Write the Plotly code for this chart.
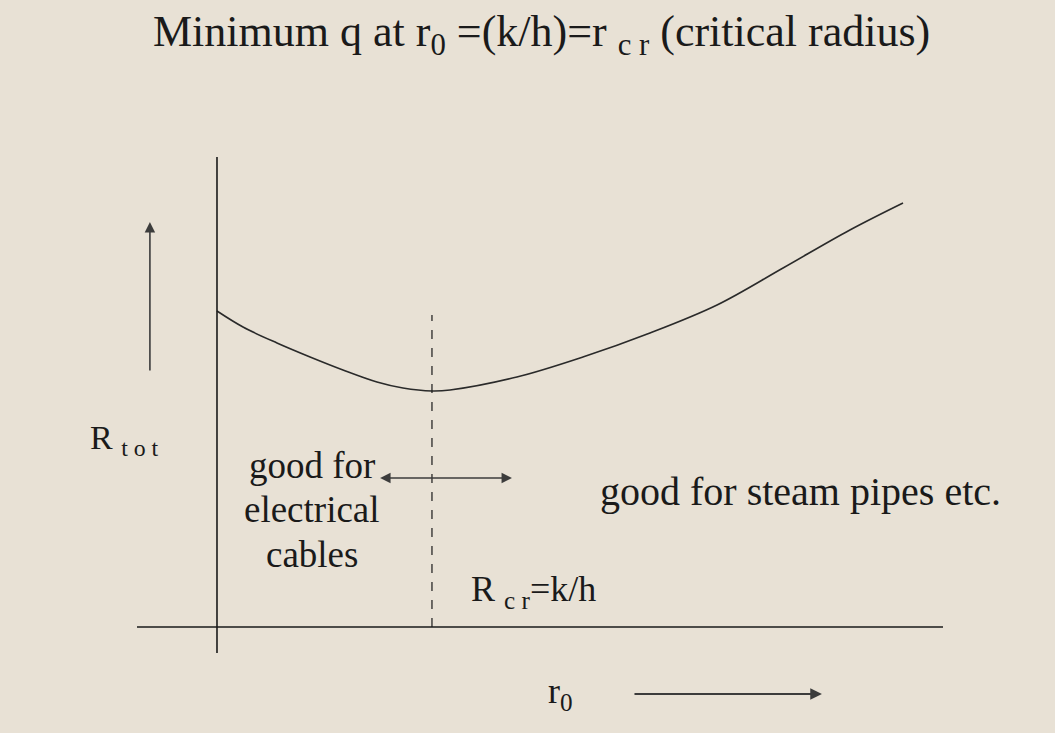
import plotly.graph_objects as go

# Total thermal resistance of an insulated pipe vs. outer radius r0
# r0 in units of the critical radius (r_cr = k/h -> 1.0)
r0 = [0.0, 0.121, 0.279, 0.433, 0.586, 0.744, 0.865, 1.0, 1.084, 1.395,
      1.702, 2.014, 2.326, 2.633, 2.944, 3.191]
r_tot = [3.16, 3.00, 2.84, 2.70, 2.57, 2.45, 2.39, 2.36, 2.37, 2.50,
         2.70, 2.94, 3.22, 3.59, 3.97, 4.24]
r_critical = 1.0

BG = "#e8e1d5"
SERIF = "Liberation Serif, Times New Roman, serif"
INK = "#1a1a1a"
ARROW = "#3c3c3c"

fig = go.Figure()

fig.add_trace(go.Scatter(
    x=r0, y=r_tot, mode="lines",
    line=dict(color="#2a2a2a", width=1.6, shape="spline", smoothing=1.0),
    hoverinfo="skip", showlegend=False,
))

shapes = [
    # vertical axis
    dict(type="line", x0=0, x1=0, y0=-0.26, y1=4.70, line=dict(color=INK, width=1.6)),
    # horizontal axis
    dict(type="line", x0=-0.372, x1=3.377, y0=0, y1=0, line=dict(color=INK, width=1.6)),
    # critical radius marker
    dict(type="line", x0=r_critical, x1=r_critical, y0=0, y1=3.12,
         line=dict(color=INK, width=1.2, dash="dash")),
]


def label(text, x, y, size, xanchor="center"):
    return dict(text=text, x=x, y=y, showarrow=False, xanchor=xanchor, yanchor="middle",
                font=dict(family=SERIF, size=size, color=INK))


annotations = [
    dict(text="Minimum q at r<sub>0</sub> =(k/h)=r <sub>c r</sub> (critical radius)",
         x=0.513, xref="paper", y=0.953, yref="paper", showarrow=False,
         font=dict(family=SERIF, size=44, color=INK), xanchor="center", yanchor="middle"),
    label("R <sub>t o t</sub>", -0.43, 1.87, 34),
    label("good for", 0.44, 1.62, 37),
    label("electrical", 0.44, 1.18, 37),
    label("cables", 0.44, 0.73, 37),
    label("good for steam pipes etc.", 2.716, 1.36, 40),
    label("R <sub>c r</sub>=k/h", 1.47, 0.36, 36),
    label("r<sub>0</sub>", 1.60, -0.66, 36),
    # R_tot direction arrow
    dict(x=-0.312, y=4.05, ax=-0.312, ay=2.55, xref="x", yref="y", axref="x", ayref="y",
         text="", showarrow=True, arrowhead=2, arrowsize=1.3, arrowwidth=1.6, arrowcolor=ARROW),
    # region double arrow around r_cr
    dict(x=1.372, y=1.49, ax=0.752, ay=1.49, xref="x", yref="y", axref="x", ayref="y",
         text="", showarrow=True, arrowhead=2, startarrowhead=2, arrowside="end+start",
         arrowsize=1.3, startarrowsize=1.3, arrowwidth=1.6, arrowcolor=ARROW),
    # r0 direction arrow
    dict(x=2.814, y=-0.67, ax=1.935, ay=-0.67, xref="x", yref="y", axref="x", ayref="y",
         text="", showarrow=True, arrowhead=2, arrowsize=1.3, arrowwidth=1.8, arrowcolor=ARROW),
]

fig.update_layout(
    width=1055, height=733,
    margin=dict(l=0, r=0, t=0, b=0),
    paper_bgcolor=BG, plot_bgcolor=BG,
    xaxis=dict(range=[-1.0093, 3.898], visible=False, fixedrange=True),
    yaxis=dict(range=[-1.06, 6.27], visible=False, fixedrange=True),
    shapes=shapes, annotations=annotations,
    showlegend=False,
)

fig.write_html("out.html")
